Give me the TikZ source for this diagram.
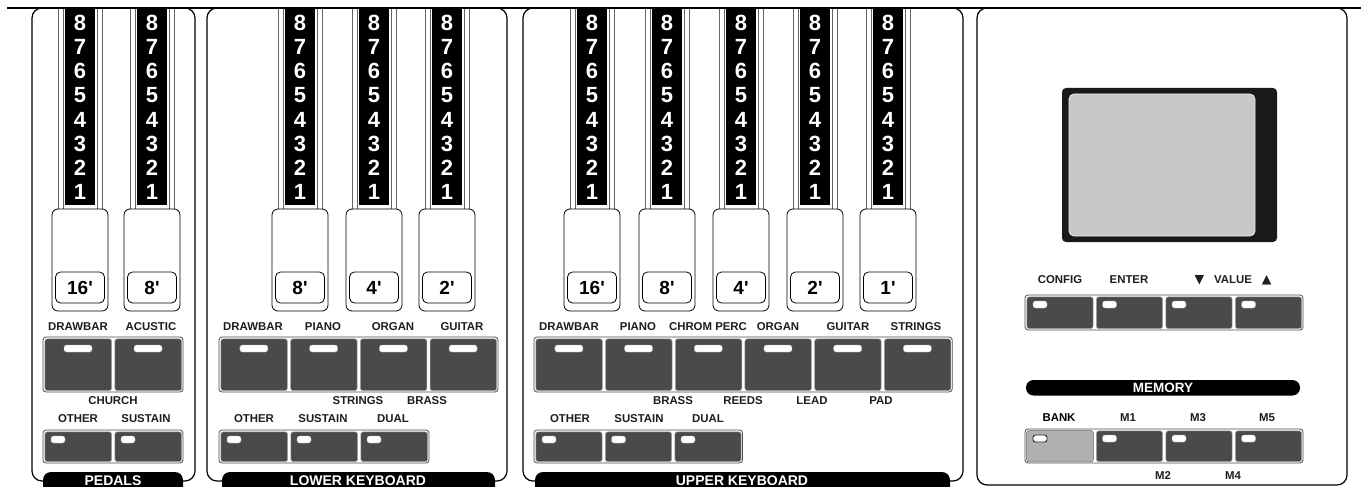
\documentclass[tikz,border=0pt]{standalone}
\usepackage{fontspec}
\setmainfont{Liberation Sans}
\newfontfamily\symfont{DejaVu Sans}
\newfontfamily\ftqfont{Liberation Sans}
\definecolor{btndark}{HTML}{4A4A4A}
\definecolor{btnlight}{HTML}{B0B0B0}
\definecolor{lcdgray}{HTML}{C8C8C8}
\definecolor{lbltext}{HTML}{1E1E1E}
\newcommand\ftq{{\ftqfont\bfseries '}}
\tikzset{
  panel/.style={draw=black, line width=1.2pt, rounded corners=10pt, fill=white},
  tabbar/.style={fill=black, rounded corners=8pt},
  tabtext/.style={text=white, font=\bfseries\fontsize{14}{14}\selectfont, inner sep=0pt},
  dbnum/.style={text=white, font=\bfseries\fontsize{22}{22}\selectfont, inner sep=0pt},
  dbhandle/.style={draw=black, line width=0.8pt, rounded corners=6pt, fill=white},
  dblabel/.style={draw=black, line width=0.8pt, rounded corners=5pt, fill=white, minimum width=49pt, minimum height=31pt, inner sep=0pt, font=\bfseries\fontsize{19}{19}\selectfont},
  rowframe/.style={draw=black!70, line width=0.8pt, rounded corners=3pt, fill=white},
  btnkey/.style={draw=black!35, line width=0.5pt, fill=btndark, rounded corners=2.5pt, inner sep=0pt},
  ledbig/.style={draw=black!30, line width=0.4pt, fill=white, rounded corners=2.5pt, minimum width=28pt, minimum height=7pt, inner sep=0pt},
  ledsmall/.style={draw=black!30, line width=0.4pt, fill=white, rounded corners=2.5pt, minimum width=14pt, minimum height=7pt, inner sep=0pt},
  lbl/.style={text=lbltext, font=\bfseries\fontsize{11.4}{11.4}\selectfont, inner sep=0pt},
}
% drawbar: #1 name, #2 centre x, #3 footage label
\newcommand\mkdrawbar[3]{%
  \draw[draw=black!60, line width=0.6pt, fill=white] (#2-22,8) rectangle (#2+22,210);
  \draw[draw=black!60, line width=0.5pt] (#2-17,8) -- (#2-17,210) (#2+17,8) -- (#2+17,210);
  \fill[black] (#2-15,8) rectangle (#2+15,205);
  \foreach \k in {1,...,8}{\node[dbnum] (#1n\k) at (#2,{192-24.14*(\k-1)}) {\k};}
  \draw[dbhandle] (#2-28,209) rectangle (#2+28,311);
  \node[dblabel] (#1) at (#2,287.5) {#3};
}
% big button row: #1 name, #2 x0, #3 y0, #4 n, #5 w, #6 h
\newcommand\mkbigrow[6]{%
  \draw[rowframe] (#2,#3) rectangle ({#2+#4*#5},{#3+#6});
  \foreach \i in {1,...,#4}{%
    \pgfmathsetmacro\bx{#2+(\i-1)*#5+1.6}
    \pgfmathsetmacro\lx{#2+(\i-0.5)*#5}
    \node[btnkey, anchor=north west, minimum width={#5-3.2}, minimum height={#6-3.2}] (#1b\i) at (\bx,{#3+1.6}) {};
    \node[ledbig] (#1l\i) at (\lx,{#3+11.5}) {};
  }
}
% small button row
\newcommand\mksmallrow[6]{%
  \draw[rowframe] (#2,#3) rectangle ({#2+#4*#5},{#3+#6});
  \foreach \i in {1,...,#4}{%
    \pgfmathsetmacro\bx{#2+(\i-1)*#5+1.6}
    \pgfmathsetmacro\lx{#2+(\i-1)*#5+15}
    \node[btnkey, anchor=north west, minimum width={#5-3.2}, minimum height={#6-3.2}] (#1b\i) at (\bx,{#3+1.6}) {};
    \node[ledsmall] (#1l\i) at (\lx,{#3+9.5}) {};
  }
}
\begin{document}
\begin{tikzpicture}[x=1pt,y=-1pt]
\useasboundingbox (0,0) rectangle (1361,487);
\clip (0,0) rectangle (1361,487);
\fill[white] (0,0) rectangle (1361,487);

% panels
\draw[panel] (32,8) rectangle (195,481);
\draw[panel] (207,8) rectangle (507,481);
\draw[panel] (523,8) rectangle (963,481);
\draw[panel] (977,8) rectangle (1347,485);

% tabs
\fill[tabbar] (43,472) rectangle (183,497);
\node[tabtext] (tpedals) at (113,480.5) {PEDALS};
\fill[tabbar] (222,472) rectangle (495,497);
\node[tabtext] (tlower) at (358,480.5) {LOWER KEYBOARD};
\fill[tabbar] (535,472) rectangle (950,497);
\node[tabtext] (tupper) at (742,480.5) {UPPER KEYBOARD};

% drawbars
\mkdrawbar{pa}{80}{16\ftq}
\mkdrawbar{pb}{152}{8\ftq}
\mkdrawbar{la}{300}{8\ftq}
\mkdrawbar{lb}{374}{4\ftq}
\mkdrawbar{lc}{447}{2\ftq}
\mkdrawbar{ua}{592}{16\ftq}
\mkdrawbar{ub}{667}{8\ftq}
\mkdrawbar{uc}{741}{4\ftq}
\mkdrawbar{ud}{815}{2\ftq}
\mkdrawbar{ue}{888}{1\ftq}

% pedals buttons
\node[lbl] (pl1) at (78,327) {DRAWBAR};
\node[lbl] (pl2) at (151,327) {ACUSTIC};
\mkbigrow{pbig}{43}{337}{2}{70}{55}
\node[lbl] (pl3) at (113,401) {CHURCH};
\node[lbl] (pl4) at (78,419) {OTHER};
\node[lbl] (pl5) at (146,419) {SUSTAIN};
\mksmallrow{psm}{43}{430}{2}{70}{33}

% lower keyboard buttons
\node[lbl] (ll1) at (253,327) {DRAWBAR};
\node[lbl] (ll2) at (323,327) {PIANO};
\node[lbl] (ll3) at (393,327) {ORGAN};
\node[lbl] (ll4) at (462,327) {GUITAR};
\mkbigrow{lbig}{219}{337}{4}{69.75}{55}
\node[lbl] (ll5) at (358,401) {STRINGS};
\node[lbl] (ll6) at (427,401) {BRASS};
\node[lbl] (ll7) at (254,419) {OTHER};
\node[lbl] (ll8) at (323,419) {SUSTAIN};
\node[lbl] (ll9) at (393,419) {DUAL};
\mksmallrow{lsm}{219}{430}{3}{70}{33}

% upper keyboard buttons
\node[lbl] (ul1) at (569,327) {DRAWBAR};
\node[lbl] (ul2) at (638,327) {PIANO};
\node[lbl] (ul3) at (708,327) {CHROM PERC};
\node[lbl] (ul4) at (778,327) {ORGAN};
\node[lbl] (ul5) at (848,327) {GUITAR};
\node[lbl] (ul6) at (916,327) {STRINGS};
\mkbigrow{ubig}{534}{337}{6}{69.7}{55}
\node[lbl] (ul7) at (673,401) {BRASS};
\node[lbl] (ul8) at (743,401) {REEDS};
\node[lbl] (ul9) at (812,401) {LEAD};
\node[lbl] (ul10) at (881,401) {PAD};
\node[lbl] (ul11) at (570,419) {OTHER};
\node[lbl] (ul12) at (639,419) {SUSTAIN};
\node[lbl] (ul13) at (708,419) {DUAL};
\mksmallrow{usm}{534}{430}{3}{69.5}{33}

% display
\fill[black!90, rounded corners=4pt] (1062,88) rectangle (1277,242);
\draw[fill=lcdgray, draw=black!8, line width=0.8pt, rounded corners=5pt] (1069,94) rectangle (1255,236);

% config row
\node[lbl] (cl1) at (1060,280) {CONFIG};
\node[lbl] (cl2) at (1129,280) {ENTER};
\node[lbl] (cl3) at (1233,280) {{\symfont\fontsize{12.5}{12.5}\selectfont ▼}\hspace{10pt}VALUE\hspace{10pt}{\symfont\fontsize{12.5}{12.5}\selectfont ▲}};
\mksmallrow{cfg}{1025}{295}{4}{69.5}{35}

% memory
\fill[black, rounded corners=7.5pt] (1026,380) rectangle (1300,395.5);
\node[tabtext, font=\bfseries\fontsize{13.5}{13.5}\selectfont] (memtxt) at (1163,388) {MEMORY};
\node[lbl, text=black] (ml0) at (1059,417.5) {BANK};
\node[lbl] (ml1) at (1128,417.5) {M1};
\node[lbl] (ml3) at (1198,417.5) {M3};
\node[lbl] (ml5) at (1267,417.5) {M5};
\mksmallrow{mem}{1025}{429}{4}{69.5}{34}
\path[fill=btnlight, draw=black!55, line width=0.5pt, rounded corners=2.5pt] (memb1.north west) rectangle (memb1.south east);
\node[ledsmall, draw=black!85, line width=0.9pt] (bankled) at (1040,438.5) {};
\node[lbl] (ml2) at (1163,476) {M2};
\node[lbl] (ml4) at (1233,476) {M4};

% top rule
\draw[line width=1.6pt] (7,8) -- (1361,8);
\end{tikzpicture}
\end{document}
